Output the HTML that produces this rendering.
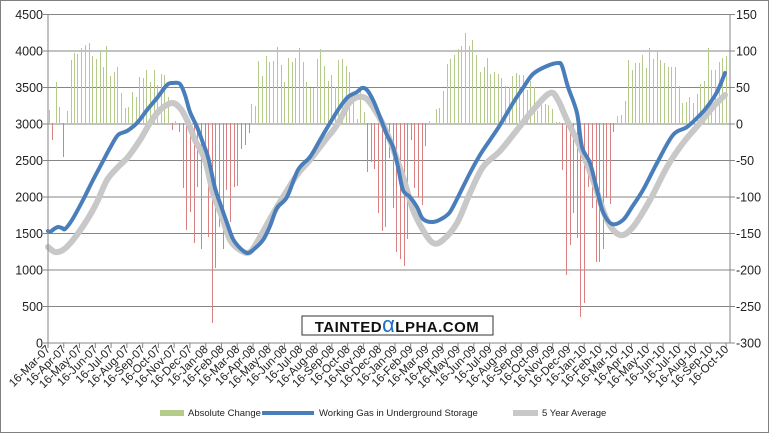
<!DOCTYPE html>
<html><head><meta charset="utf-8"><style>
html,body{margin:0;padding:0;background:#fff;}
svg{display:block;font-family:"Liberation Sans","DejaVu Sans",sans-serif;}
</style></head><body>
<svg id="s" width="769" height="433" viewBox="0 0 769 433" xmlns="http://www.w3.org/2000/svg">
<rect x="0.5" y="0.5" width="768" height="432" fill="#fff" stroke="#808080"/>
<g id="grid"></g>
<g id="bars"></g>
<path id="gray" fill="none" stroke="#c8c8c8" stroke-width="6" stroke-linejoin="round" stroke-linecap="round"/>
<path id="blue" fill="none" stroke="#4a7ebb" stroke-width="4" stroke-linejoin="round" stroke-linecap="round"/>
<g id="axes"></g>
<rect x="302" y="316" width="191" height="19" fill="#fff" stroke="#333" stroke-width="1"/>
<text x="397" y="332" text-anchor="middle" font-family="Liberation Sans,sans-serif" font-size="15" font-weight="bold" fill="#111" letter-spacing="0.5">TAINTED<tspan fill="#1f6fc0" font-size="22" font-weight="normal">α</tspan>LPHA.COM</text>
<rect x="160" y="410" width="24" height="6" fill="#b5cb8b"/>
<text x="188" y="416" font-size="9.5" fill="#222">Absolute Change</text>
<line x1="262" y1="413" x2="314" y2="413" stroke="#4a7ebb" stroke-width="4"/>
<text x="319" y="416" font-size="9.5" fill="#222">Working Gas in Underground Storage</text>
<line x1="513" y1="413" x2="538" y2="413" stroke="#c8c8c8" stroke-width="6"/>
<text x="542" y="416" font-size="9.5" fill="#222">5 Year Average</text>
</svg>
<script>
var NS="http://www.w3.org/2000/svg";
function el(p,t,a,txt){var e=document.createElementNS(NS,t);for(var k in a)e.setAttribute(k,a[k]);if(txt!=null)e.textContent=txt;p.appendChild(e);return e;}
var grid=document.getElementById('grid'),axes=document.getElementById('axes'),bars=document.getElementById('bars');
var L=48,R=730,T=14.5,B=343,step=36.5;
for(var i=0;i<=9;i++){var y=T+i*step;
 if(i<9)el(grid,'line',{x1:L,x2:R,y1:y,y2:y,stroke:'#868686','stroke-width':1});
 el(axes,'line',{x1:L-5,x2:L,y1:y,y2:y,stroke:'#868686'});
 el(axes,'line',{x1:R,x2:R+5,y1:y,y2:y,stroke:'#868686'});
 el(axes,'text',{x:43,y:y+4.5,'text-anchor':'end','font-size':12.5,fill:'#222'},String(4500-i*500));
 el(axes,'text',{x:736,y:y+4.5,'font-size':12.5,fill:'#222'},String(150-i*50));
}
el(axes,'line',{x1:L,x2:L,y1:T,y2:B,stroke:'#868686'});
el(axes,'line',{x1:R,x2:R,y1:T,y2:B,stroke:'#868686'});
el(axes,'line',{x1:L,x2:R,y1:B,y2:B,stroke:'#868686'});
var mon=['Jan','Feb','Mar','Apr','May','Jun','Jul','Aug','Sep','Oct','Nov','Dec'];
for(var k=0;k<44;k++){var x=48+k*15.77;var m=(2+k)%12,yr=7+Math.floor((2+k)/12);
 el(axes,'line',{x1:x,x2:x,y1:B,y2:B+5,stroke:'#868686'});
 el(axes,'text',{transform:'translate('+(x+3)+',350) rotate(-45)','text-anchor':'end','font-size':11.5,fill:'#222'},'16-'+mon[m]+'-'+(yr<10?'0'+yr:yr));
}
function smooth(a){var d='M'+a[0][0]+','+a[0][1];
 for(var i=0;i<a.length-1;i++){var p0=a[i>0?i-1:i],p1=a[i],p2=a[i+1],p3=a[i+2<a.length?i+2:i+1];
  var c1x=p1[0]+(p2[0]-p0[0])/6,c1y=p1[1]+(p2[1]-p0[1])/6,c2x=p2[0]-(p3[0]-p1[0])/6,c2y=p2[1]-(p3[1]-p1[1])/6;
  d+=' C'+c1x.toFixed(1)+','+c1y.toFixed(1)+' '+c2x.toFixed(1)+','+c2y.toFixed(1)+' '+p2[0]+','+p2[1];}
 return d;}
var blue=[[48,231],[50,232],[54,229],[58,227],[62,228],[65,229],[72,220],[83,200],[93,180],[102,163],[110,148],[118,135],[127,131],[137,123],[147,110],[157,98],[167,85],[173,83],[180,84],[185,95],[190,112],[197,127],[203,143],[208,157],[215,188],[220,203],[227,223],[233,239],[240,248],[247,253],[253,250],[263,240],[270,226],[277,208],[287,197],[298,170],[310,157],[320,140],[330,123],[340,107],[348,97],[357,92],[362,88],[367,90],[373,100],[380,117],[387,135],[393,147],[398,167],[403,190],[410,197],[417,207],[423,219],[433,222],[443,218],[450,212],[457,199],[470,173],[480,155],[490,140],[500,125],[513,103],[523,88],[533,74],[547,66],[558,63],[562,66],[568,87],[577,113],[582,147],[590,163],[597,190],[603,212],[612,224],[623,220],[632,207],[643,190],[657,163],[673,135],[687,127],[700,115],[707,107],[717,92],[725,73]];
var gray=[[48,247],[55,252],[63,250],[73,240],[87,220],[97,202],[107,180],[118,167],[128,157],[140,140],[150,123],[160,110],[172,103],[180,108],[187,120],[195,140],[205,160],[213,193],[222,217],[230,240],[240,250],[250,252],[260,237],[270,219],[283,197],[297,175],[310,160],[323,143],[337,125],[350,102],[363,97],[373,107],[387,133],[403,177],[413,210],[423,230],[433,243],[443,240],[457,223],[470,193],[483,167],[500,151],[517,130],[533,110],[550,93],[558,100],[567,120],[580,147],[593,180],[607,220],[620,235],[633,227],[650,200],[667,167],[683,143],[700,123],[713,107],[725,95]];
document.getElementById('blue').setAttribute('d',smooth(blue));
document.getElementById('gray').setAttribute('d',smooth(gray));
var z4=[[27,110],[37,140],[49,82],[58,107],[70,157],[82,111],[92,60],[103,53],[112,54],[124,48],[136,45],[146,43],[157,56],[168,59],[179,51],[190,67],[199,46],[211,76],[222,72],[232,67],[243,93],[256,108],[265,107],[277,92],[287,97],[298,77],[309,78],[319,70],[330,82],[341,70],[351,85],[363,74],[373,75],[385,97],[397,130],[406,121],[418,132],[428,188],[439,230],[450,212],[461,243],[472,187],[483,249],[494,167],[505,237],[515,323],[526,268],[537,227],[548,249],[559,190],[570,222],[581,187],[592,186],[602,149],[614,145],[626,133],[634,104],[645,106],[655,61],[667,76],[678,56],[688,62],[700,61],[712,47]];
var z5=[[32,65],[43,82],[53,58],[65,62],[76,58],[86,48],[98,62],[108,82],[119,88],[130,88],[140,59],[151,49],[162,66],[173,81],[184,75],[195,87],[205,60],[216,59],[227,66],[238,72],[249,100],[260,119],[270,91],[281,112],[291,172],[302,162],[313,169],[324,213],[335,231],[346,227],[357,158],[368,208],[379,252],[390,259],[401,266],[411,239],[422,140],[433,188],[445,197],[455,205],[466,146],[476,121],[498,109],[508,108],[520,91],[530,64],[541,59],[552,55],[563,49],[574,46],[585,33],[596,46],[607,40],[619,55],[630,72],[641,67],[650,58],[660,74],[672,72],[683,74],[693,78],[705,86],[716,87]];
var z6=[[37,76],[47,73],[58,75],[69,75],[80,90],[90,81],[101,87],[112,111],[123,105],[134,104],[145,105],[156,109],[167,122],[178,122],[187,170],[199,275],[210,245],[220,213],[231,238],[241,317],[253,303],[265,187],[275,208],[287,262],[298,262],[308,249],[319,198],[329,204],[340,132],[352,116],[362,115],[374,101],[385,60],[395,70],[406,63],[416,63],[427,55],[438,68],[448,48],[459,59],[470,51],[481,60],[492,63],[503,67],[514,67],[525,67],[536,86],[547,103],[557,102],[568,97],[580,103],[590,94],[601,84],[612,81],[623,48],[634,70],[644,70],[656,62],[666,58],[677,56]];
function addBars(a,off){a.forEach(function(p){var x=Math.round(p[0]/3+off)+0.5,y=p[1];if(Math.abs(y-123)<0.5)return;
 el(bars,'line',{x1:x,x2:x,y1:123,y2:y,stroke:y<123?'#b5cb8b':'#d98080','stroke-width':1});});}
addBars(z4,40);addBars(z5,270);addBars(z6,500);
</script>
</body></html>
